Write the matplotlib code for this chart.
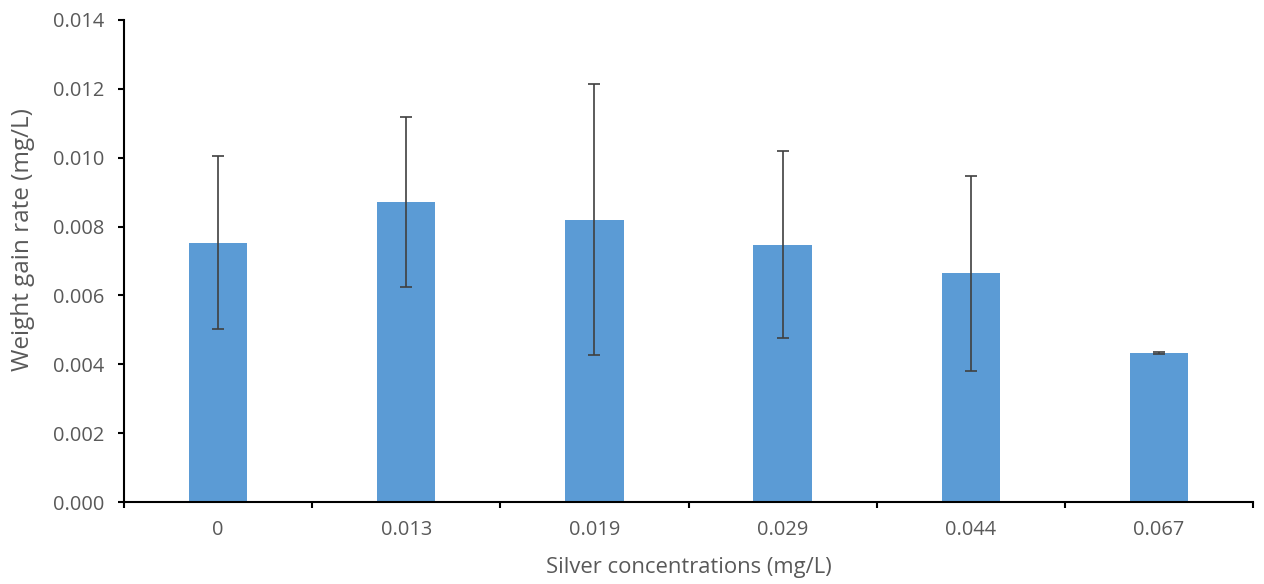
import numpy as np
import matplotlib.pyplot as plt
from matplotlib.ticker import MultipleLocator, FormatStrFormatter

categories = ["0", "0.013", "0.019", "0.029", "0.044", "0.067"]
weight_gain = [0.00753, 0.00872, 0.00820, 0.00747, 0.00664, 0.00433]
errors = [0.00251, 0.00247, 0.00393, 0.00271, 0.00284, 0.00002]

plt.rcParams['font.family'] = ['Open Sans', 'DejaVu Sans']
text_color = "#595959"

fig = plt.figure(figsize=(12.64, 5.84), dpi=100)
ax = fig.add_axes([0.0981, 0.1404, 0.8932, 0.8254])

x = np.arange(len(categories))
ax.bar(x, weight_gain, width=0.31, color="#5B9BD5", zorder=2)
ax.errorbar(x, weight_gain, yerr=errors, fmt="none", ecolor="#404040",
            elinewidth=1.2, capsize=4, capthick=1.2, zorder=3)

ax.set_xlim(-0.5, len(categories) - 0.5)
ax.set_ylim(0, 0.014)
ax.yaxis.set_major_locator(MultipleLocator(0.002))
ax.yaxis.set_major_formatter(FormatStrFormatter("%.3f"))

ax.set_xticks(x)
ax.set_xticklabels(categories)
ax.set_xticks(np.arange(-0.5, len(categories)), minor=True)
ax.tick_params(axis="x", which="major", length=0, pad=13, labelsize=14.4, labelcolor=text_color)
ax.tick_params(axis="x", which="minor", length=4.3, width=1.5, direction="out")
ax.tick_params(axis="y", length=4.3, width=1.5, direction="out", labelsize=14.4,
               labelcolor=text_color, pad=10)

for side in ["top", "right"]:
    ax.spines[side].set_visible(False)
for side in ["left", "bottom"]:
    ax.spines[side].set_linewidth(1.5)
    ax.spines[side].set_color("black")

ax.set_xlabel("Silver concentrations (mg/L)", fontsize=15.8, color=text_color, va="center")
ax.set_ylabel("Weight gain rate (mg/L)", fontsize=17.5, color=text_color, va="center")
ax.xaxis.set_label_coords(0.5, -0.135)
ax.yaxis.set_label_coords(-0.0895, 0.5436)

fig.savefig("out.png", dpi=100)
